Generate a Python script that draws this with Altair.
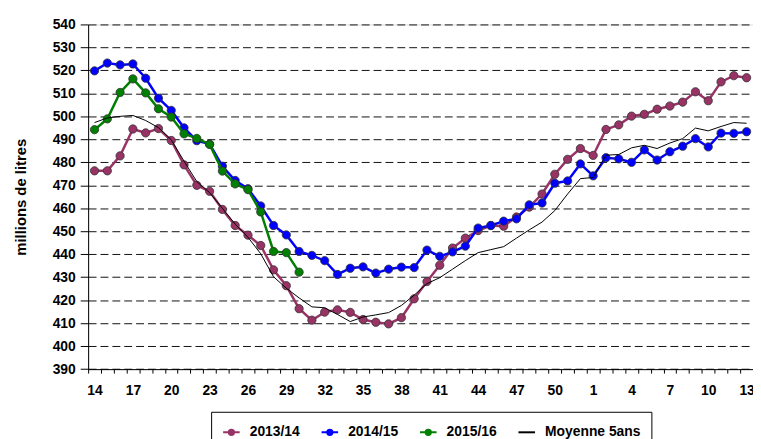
import altair as alt
import pandas as pd

weeks = list(range(14, 53)) + list(range(1, 14))
series_names = ["2013/14", "2014/15", "2015/16", "Moyenne 5ans"]
colors = ["#993366", "#0000FF", "#008000", "#000000"]

s2013 = [476.3, 476.3, 482.8, 494.5, 492.8, 494.7, 489.5, 478.9, 470.0, 467.4,
         459.5, 452.5, 448.3, 443.8, 433.2, 426.3, 416.3, 411.3, 414.8, 415.8,
         414.7, 411.6, 410.4, 409.7, 412.4, 420.6, 428.1, 435.2, 442.7, 447.0,
         450.3, 452.5, 452.2, 456.2, 460.5, 466.2, 474.8, 481.3, 486.0, 483.0,
         494.3, 496.3, 500.1, 500.9, 503.1, 504.5, 506.2, 510.7, 506.8, 515.0,
         517.7, 516.8]
s2014 = [519.8, 523.2, 522.4, 522.8, 516.6, 507.9, 502.6, 495.0, 489.4, 487.9,
         478.3, 472.1, 468.5, 461.0, 452.5, 448.4, 441.2, 439.5, 437.2, 431.2,
         433.9, 434.5, 431.8, 433.5, 434.4, 434.2, 441.8, 439.1, 441.0, 443.5,
         451.4, 452.5, 454.4, 455.4, 461.5, 462.3, 470.9, 471.9, 479.3, 474.1,
         482.0, 481.5, 480.0, 485.4, 481.0, 484.6, 487.0, 490.3, 486.7, 492.7,
         492.6, 493.3]
s2015 = [494.2, 498.9, 510.4, 516.3, 510.2, 503.3, 499.7, 492.4, 490.4, 487.8,
         476.2, 470.6, 468.1, 458.4, 441.2, 440.7, 432.2]
moy = [497.3, 499.3, 500.0, 500.4, 498.2, 495.1, 489.8, 480.5, 471.6, 466.8,
       460.0, 453.1, 447.4, 440.2, 430.2, 425.2, 421.0, 417.1, 416.7, 413.8,
       410.7, 412.7, 413.6, 414.6, 417.7, 422.2, 427.2, 429.8, 433.5, 437.2,
       440.7, 442.0, 443.3, 447.0, 450.6, 454.0, 459.0, 466.2, 472.9, 473.4,
       483.1, 483.4, 486.3, 487.4, 486.0, 488.4, 490.3, 494.9, 493.7, 495.6,
       497.3, 497.0]

rows = []
for name, vals in zip(series_names, [s2013, s2014, s2015, moy]):
    for i, v in enumerate(vals):
        rows.append({"series": name, "idx": i, "week": weeks[i], "value": v})
df = pd.DataFrame(rows)

FONT = "Liberation Sans"
W = 672
H = 348.4
band = W / 52

xscale = alt.Scale(domain=[-0.5, 51.5], nice=False, zero=False)
yscale = alt.Scale(domain=[390, 540], nice=False, zero=False)
cscale = alt.Scale(domain=series_names, range=colors)

xaxis = alt.Axis(
    title=None, values=list(range(52)), tickOffset=-band / 2, labelOffset=band / 2,
    labelExpr="datum.value % 3 == 0 ? '' + (datum.value > 38 ? datum.value - 38 : datum.value + 14) : ''",
    tickSize=4, tickColor="black", labelPadding=11, labelFontSize=14, labelFontWeight="bold",
    labelColor="black", labelFont=FONT, labelFlush=False, labelOverlap=False, labelBound=False,
    domainColor="black", grid=False, orient="bottom",
)
yaxis = alt.Axis(
    title="millions de litres", values=list(range(390, 541, 10)), grid=True,
    gridDash=[8, 4], gridColor="#111", gridWidth=1, tickSize=8, tickColor="black",
    labelPadding=5, labelFontSize=14, labelFontWeight="bold", labelColor="black",
    labelFont=FONT, domainColor="black", titleFont=FONT, titleFontSize=15,
    titleFontWeight="bold", titleColor="black", titlePadding=24,
)

dot_path = "M-1,0H1M0.32,0A0.32,0.32,0,1,1,-0.32,0A0.32,0.32,0,1,1,0.32,0Z"
line_path = "M-1,0H1"
legend = alt.Legend(
    title=None, orient="none", legendX=124.3, legendY=391.5, direction="horizontal",
    strokeColor="black", fillColor="white", padding=11, labelFont=FONT,
    labelFontSize=14, labelFontWeight="bold", labelColor="black", symbolSize=280,
    labelOffset=9, columnPadding=17.5, symbolStrokeWidth=2,
)

base = alt.Chart(df)
xy = dict(
    x=alt.X("idx:Q", scale=xscale, axis=xaxis),
    y=alt.Y("value:Q", scale=yscale, axis=yaxis),
)
color = alt.Color("series:N", scale=cscale, legend=legend)
layers = []
for name in series_names:
    sub = base.transform_filter(alt.datum.series == name)
    sw = 1 if name == "Moyenne 5ans" else 2.5
    layers.append(sub.mark_line(strokeWidth=sw).encode(color=color, **xy))
    if name != "Moyenne 5ans":
        layers.append(sub.mark_circle(size=70, opacity=1, stroke="#333", strokeWidth=0.8)
                      .encode(color=color, **xy))

# zero-size points: they only give the shared legend its line-and-dot symbols
legend_layer = base.mark_point(size=0, filled=True).encode(
    fill=alt.Fill("series:N", scale=cscale, legend=legend),
    stroke=alt.Stroke("series:N", scale=cscale, legend=legend),
    shape=alt.Shape("series:N", scale=alt.Scale(domain=series_names,
                    range=[dot_path, dot_path, dot_path, line_path]), legend=legend),
    **xy,
)
layers.append(legend_layer)

chart = alt.layer(*layers).properties(
    width=W, height=H,
    padding={"left": 81, "top": 14.3, "right": 0, "bottom": 68.3},
    autosize=alt.AutoSizeParams(type="none"),
).configure_view(stroke=None).configure(font=FONT, background="white")

chart.save("out.html", embed_options={"renderer": "svg", "actions": False})
